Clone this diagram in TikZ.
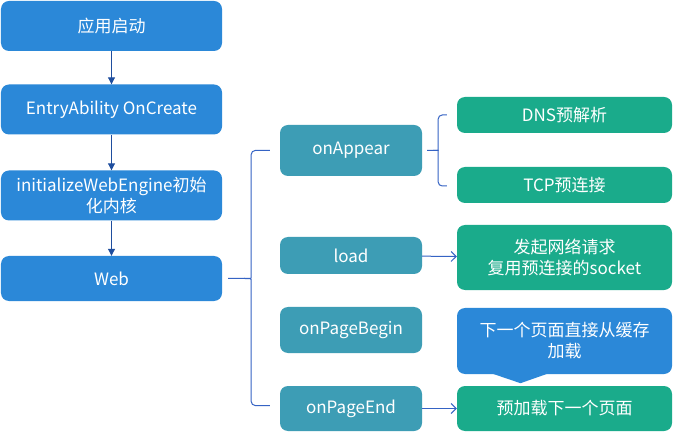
\documentclass[tikz,border=0pt]{standalone}
\usepackage{fontspec}
\setmainfont{Noto Sans CJK SC}
\usetikzlibrary{calc,arrows.meta}
\definecolor{appblue}{HTML}{2B88D8}
\definecolor{hookteal}{HTML}{3D9DB5}
\definecolor{taskgreen}{HTML}{1AAB8B}
\definecolor{flowline}{HTML}{1F4E9E}
\definecolor{bracecol}{HTML}{3563C4}
\tikzset{
	box/.style={rounded corners=8bp, text=white, align=center, inner sep=0pt, font=\fontsize{17bp}{21bp}\selectfont},
	stagebox/.style={box, fill=appblue, minimum width=221bp, minimum height=50bp},
	hookbox/.style={box, fill=hookteal, minimum width=142bp},
	taskbox/.style={box, fill=taskgreen, minimum width=215bp},
	flow/.style={draw=flowline, line width=1bp, -{Triangle[length=7bp,width=7bp]}},
	brace/.style={draw=bracecol, line width=1bp, rounded corners=4bp},
	leads/.style={draw=bracecol, line width=1bp, -{Straight Barb[length=5bp,width=10bp]}},
}

\begin{document}
\begin{tikzpicture}[x=1bp, y=1bp]
		%%%%% START %%%%%
		
		\fill[white] (0, 0) rectangle (674, -433);
		\useasboundingbox (0, 0) rectangle (674, -433);
		
		% startup chain
		\node[stagebox] (start) at (111.5, -26) {应用启动};
		\node[stagebox] (entry) at (111.5, -109.5) {EntryAbility OnCreate};
		\node[stagebox] (init) at (111.5, -195.5) {initializeWebEngine初始\\化内核};
		\node[stagebox, minimum height=45bp] (web) at (111.5, -278.5) {Web};
		
		\foreach \a/\b in {start/entry, entry/init, init/web}
			\draw[flow] (\a) -- (\b);
		
		% web callbacks
		\node[hookbox, minimum height=51bp] (appear) at (351, -150.5) {onAppear};
		\node[hookbox, minimum height=37bp] (load) at (351, -255.5) {load};
		\node[hookbox, minimum height=46bp] (begin) at (351, -330) {onPageBegin};
		\node[hookbox, minimum height=45bp] (end) at (351, -408.5) {onPageEnd};
		
		% what each callback does
		\node[taskbox, minimum height=36bp] (dns) at (564.5, -115) {DNS预解析};
		\node[taskbox, minimum height=36bp] (tcp) at (564.5, -185) {TCP预连接};
		\node[taskbox, minimum height=65bp] (req) at (564.5, -257.5) {发起网络请求\\复用预连接的socket};
		\node[box, fill=appblue, minimum width=215bp, minimum height=66bp] (cache) at (564.5, -341) {下一个页面直接从缓存\\加载};
		\fill[appblue] ($(cache.south)+(-72, 0.5)$) -- ($(cache.south)+(-44, -9)$) -- ($(cache.south)+(-17, 0.5)$) -- cycle;
		\node[taskbox, minimum height=45bp] (pre) at (564.5, -408.5) {预加载下一个页面};
		
		\draw[leads] (load) -- (req);
		\draw[leads] (end) -- (pre);
		
		% big brace
		\coordinate (bigtip) at ($(web.east)+(22, 0)$);
		\draw[brace] ($(appear.west)+(-10, 0)$) -| ($(bigtip)+(7, 5)$) .. controls ($(bigtip)+(7, 0)$) .. (bigtip) -- ($(web.east)+(6, 0)$);
		\draw[brace] ($(end.west)+(-10, 3)$) -| ($(bigtip)+(7, -5)$) .. controls ($(bigtip)+(7, 0)$) .. (bigtip);
		
		% small brace
		\coordinate (smalltip) at ($(appear.east)+(11, 0)$);
		\draw[brace] ($(dns.west)+(-10, 0)$) -| ($(smalltip)+(5, 4)$) .. controls ($(smalltip)+(5, 0)$) .. (smalltip) -- ($(appear.east)+(5, 0)$);
		\draw[brace] ($(tcp.west)+(-10, -1)$) -| ($(smalltip)+(5, -4)$) .. controls ($(smalltip)+(5, 0)$) .. (smalltip);
		
		%%%%% END %%%%%
\end{tikzpicture}
\end{document}
